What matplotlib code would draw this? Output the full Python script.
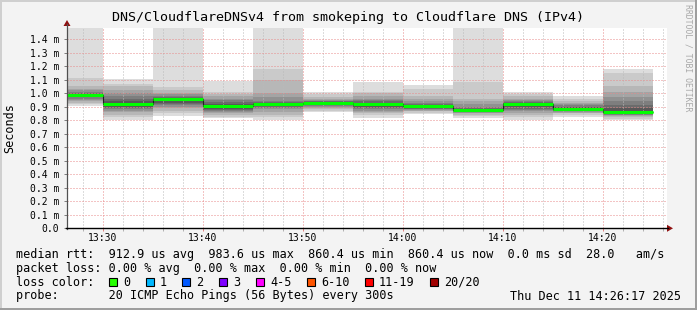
import matplotlib
matplotlib.use('Agg')
import matplotlib.pyplot as plt
from matplotlib.patches import Rectangle, Polygon
from matplotlib.lines import Line2D

W, H = 697, 310

# minutes after 13:00, one smokeping sample every 5 min
step_start = [25, 30, 35, 40, 45, 50, 55, 60, 65, 70, 75, 80]
step_len = 5

# median rtt per step (ms)
median_ms = [0.9836, 0.919, 0.956, 0.905, 0.919, 0.929, 0.919, 0.905, 0.877, 0.919, 0.885, 0.8604]

# the 20 pings of each step (ms)
smoke_ms = [
    [0.905, 0.92, 0.93, 0.94, 0.95, 0.96, 0.97, 0.975, 0.98, 0.983, 0.986, 0.99, 0.995, 1.00, 1.01, 1.02, 1.03, 1.05, 1.11, 1.55],
    [0.80, 0.82, 0.84, 0.86, 0.87, 0.88, 0.89, 0.90, 0.91, 0.915, 0.919, 0.925, 0.94, 0.96, 0.98, 1.00, 1.02, 1.05, 1.07, 1.104],
    [0.833, 0.85, 0.87, 0.89, 0.90, 0.91, 0.92, 0.93, 0.94, 0.95, 0.956, 0.96, 0.965, 0.97, 0.98, 0.99, 1.00, 1.02, 1.047, 1.55],
    [0.818, 0.825, 0.84, 0.85, 0.86, 0.87, 0.875, 0.882, 0.89, 0.90, 0.907, 0.91, 0.92, 0.935, 0.95, 0.96, 0.975, 0.991, 1.006, 1.092],
    [0.80, 0.82, 0.84, 0.86, 0.88, 0.89, 0.90, 0.91, 0.915, 0.919, 0.922, 0.925, 0.929, 0.935, 0.944, 0.969, 1.003, 1.097, 1.178, 1.55],
    [0.858, 0.87, 0.88, 0.89, 0.90, 0.905, 0.91, 0.915, 0.92, 0.925, 0.929, 0.932, 0.935, 0.94, 0.945, 0.95, 0.96, 0.968, 0.99, 1.010],
    [0.818, 0.835, 0.85, 0.86, 0.87, 0.88, 0.89, 0.90, 0.905, 0.91, 0.919, 0.925, 0.93, 0.94, 0.95, 0.96, 0.98, 1.00, 1.01, 1.085],
    [0.843, 0.855, 0.865, 0.87, 0.875, 0.88, 0.885, 0.89, 0.895, 0.90, 0.905, 0.91, 0.915, 0.92, 0.93, 0.94, 0.96, 0.98, 1.03, 1.060],
    [0.815, 0.83, 0.84, 0.85, 0.855, 0.86, 0.865, 0.87, 0.873, 0.875, 0.877, 0.88, 0.885, 0.89, 0.90, 0.92, 0.94, 0.96, 1.085, 1.55],
    [0.80, 0.82, 0.84, 0.855, 0.865, 0.875, 0.885, 0.895, 0.905, 0.912, 0.919, 0.925, 0.93, 0.935, 0.94, 0.95, 0.96, 0.975, 0.99, 1.010],
    [0.826, 0.84, 0.85, 0.855, 0.86, 0.865, 0.87, 0.875, 0.878, 0.882, 0.885, 0.89, 0.895, 0.90, 0.91, 0.92, 0.93, 0.945, 0.956, 0.981],
    [0.80, 0.81, 0.82, 0.83, 0.835, 0.84, 0.845, 0.85, 0.855, 0.858, 0.8604, 0.87, 0.89, 0.91, 0.94, 0.97, 1.01, 1.05, 1.146, 1.178],
]

x_ticks = [30, 40, 50, 60, 70, 80]
x_labels = ['13:30', '13:40', '13:50', '14:00', '14:10', '14:20']
x_minor = list(range(28, 87, 2))
y_ticks = [0.0, 0.1, 0.2, 0.3, 0.4, 0.5, 0.6, 0.7, 0.8, 0.9, 1.0, 1.1, 1.2, 1.3, 1.4]
y_labels = ['0.0', '0.1 m', '0.2 m', '0.3 m', '0.4 m', '0.5 m', '0.6 m', '0.7 m',
            '0.8 m', '0.9 m', '1.0 m', '1.1 m', '1.2 m', '1.3 m', '1.4 m']

loss_names = ['0', '1', '2', '3', '4-5', '6-10', '11-19', '20/20']
loss_colors = ['#26ff00', '#00b8ff', '#0059ff', '#7e00ff', '#ff00ff', '#ff5500', '#ff0000', '#a00000']

title = 'DNS/CloudflareDNSv4 from smokeping to Cloudflare DNS (IPv4)'
rtt_line = 'median rtt:  912.9 us avg  983.6 us max  860.4 us min  860.4 us now  0.0 ms sd  28.0   am/s'
loss_line = 'packet loss: 0.00 % avg  0.00 % max  0.00 % min  0.00 % now'
probe_line = 'probe:       20 ICMP Echo Pings (56 Bytes) every 300s'
stamp = 'Thu Dec 11 14:26:17 2025'

plt.rcParams['font.family'] = 'DejaVu Sans Mono'


def px(x, y):
    return (x / W, 1 - y / H)


fig = plt.figure(figsize=(W / 100, H / 100), dpi=100, facecolor='#f3f3f3')
ax = fig.add_axes([67 / W, 1 - 228.3 / H, 600 / W, 200.3 / H])
ax.set_facecolor('white')
ax.set_xlim(26.4, 86.4)
ax.set_ylim(0, 200.3 / 135.2)

# smoke: outer pairs light, inner pairs dark
for k, s in enumerate(step_start):
    p = sorted(smoke_ms[k])
    for ibot in range(1, 11):
        g = int(190 / 10 * (10 - ibot)) + 50
        col = '#%02x%02x%02x' % (g, g, g)
        ax.add_patch(Rectangle((s, p[ibot - 1]), step_len, p[20 - ibot] - p[ibot - 1],
                               fc=col, ec='none', lw=0, antialiased=False, zorder=1))

# dotted grid on top of smoke
dots = (0, (1, 2))
for x in x_minor:
    if x not in x_ticks:
        ax.axvline(x, color='#bababa', lw=0.72, ls=dots, zorder=3)
for x in x_ticks:
    ax.axvline(x, color='#e88a8a', lw=0.72, ls=dots, zorder=3)
for y in y_ticks[1:]:
    ax.axhline(y, color='#e88a8a', lw=0.72, ls=dots, zorder=3)

edges = step_start + [step_start[-1] + step_len]
ax.stairs(median_ms, edges, baseline=None, color='#202020', lw=0.8, zorder=4)
ax.hlines(median_ms, step_start, [s + step_len for s in step_start],
          color='#00ff00', lw=2.2, zorder=5)

ax.set_xticks(x_ticks)
ax.set_xticklabels(x_labels)
ax.set_xticks(x_minor, minor=True)
ax.set_yticks(y_ticks)
ax.set_yticklabels(y_labels)
ax.tick_params(axis='x', which='major', length=2, width=0.72, color='#e08080', pad=1.5, labelsize=7)
ax.tick_params(axis='x', which='minor', length=2, width=0.72, color='#b0b0b0')
ax.tick_params(axis='y', length=2, width=0.72, color='#808080', pad=3.6, labelsize=7)
for sp in ax.spines.values():
    sp.set_visible(False)

# axes with arrows
fig.add_artist(Line2D([67 / W, 67 / W], [1 - 229 / H, 1 - 24 / H], color='#505050', lw=0.9))
fig.add_artist(Line2D([66 / W, 668 / W], [1 - 228.3 / H, 1 - 228.3 / H], color='black', lw=1.0))
fig.add_artist(Polygon([px(63.5, 26), px(70.5, 26), px(67, 20)], closed=True,
                       fc='#901010', ec='none', transform=fig.transFigure))
fig.add_artist(Polygon([px(667, 224.8), px(667, 231.8), px(673, 228.3)], closed=True,
                       fc='#901010', ec='none', transform=fig.transFigure))

# frame shading
fig.add_artist(Rectangle((0, 0), 1, 2 / H, fc='#9e9e9e', ec='none', transform=fig.transFigure))
fig.add_artist(Rectangle((1 - 2 / W, 0), 2 / W, 1, fc='#9e9e9e', ec='none', transform=fig.transFigure))
fig.add_artist(Rectangle((0, 1 - 2 / H), 1 - 2 / W, 2 / H, fc='#cfcfcf', ec='none', transform=fig.transFigure))
fig.add_artist(Rectangle((0, 2 / H), 2 / W, 1, fc='#cfcfcf', ec='none', transform=fig.transFigure))

fig.text(*px(348, 18), title, ha='center', va='center', fontsize=9.6, color='black')
fig.text(*px(10, 128), 'Seconds', rotation=90, ha='center', va='center', fontsize=8.5)
fig.text(*px(688, 4), 'RRDTOOL / TOBI OETIKER', rotation=270, ha='center', va='top',
         fontsize=5.9, color='#a8a8a8')

fig.text(*px(16, 254.3), rtt_line, ha='left', va='center', fontsize=8.5)
fig.text(*px(16, 268.3), loss_line, ha='left', va='center', fontsize=8.5)
fig.text(*px(16, 282.3), 'loss color:', ha='left', va='center', fontsize=8.5)
fig.text(*px(16, 296), probe_line, ha='left', va='center', fontsize=8.5)
fig.text(*px(681, 296), stamp, ha='right', va='center', fontsize=8.5)

cw = 7.12
bx = 109
for name, col in zip(loss_names, loss_colors):
    fig.add_artist(Rectangle(px(bx, 286.3), 8 / W, 8 / H, fc=col, ec='black', lw=0.8,
                             transform=fig.transFigure))
    fig.text(*px(bx + 14.3, 282.3), name, ha='left', va='center', fontsize=8.5)
    bx += 14.3 + cw * (len(name) + 2) + 1

fig.savefig('out.png', dpi=100, facecolor=fig.get_facecolor())
